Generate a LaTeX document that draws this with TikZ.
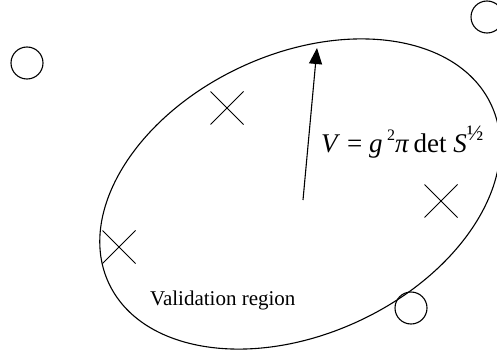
\documentclass[tikz,border=0pt]{standalone}
\usepackage{fontspec}
\setmainfont{Liberation Serif}
\usetikzlibrary{shapes.geometric,shapes.misc,arrows.meta}
\begin{document}
\begin{tikzpicture}[x=1pt,y=1pt,
  meas/.style={draw,circle,minimum size=32pt,inner sep=0pt,line width=1.1pt},
  xmark/.style={draw,cross out,minimum size=32pt,inner sep=0pt,line width=1pt},
  region/.style={draw,ellipse,minimum width=422pt,minimum height=280pt,inner sep=0pt,line width=1.1pt,rotate=25}]
\useasboundingbox (0,0) rectangle (497,354);
\node[region] (ell) at (300,160) {};
\node[meas] (m1) at (27,291) {};
\node[meas] (m2) at (487,337) {};
\node[meas] (m3) at (411,46) {};
\node[xmark] (x1) at (227,246) {};
\node[xmark] (x2) at (441,153) {};
\node[xmark] (x3) at (119,107) {};
\coordinate (c) at (303,154);
\coordinate (t) at (317,306);
\draw[line width=1.1pt,-{Triangle[length=16pt,width=13pt]}] (c) -- (t);
\node[anchor=base west,inner sep=0pt,font=\fontsize{27}{30}\selectfont] (f) at (321,202)
  {\textit{V} = \textit{g}\,\raisebox{0.42em}{\fontsize{16}{18}\selectfont 2}\textit{π}\,det \textit{S}\raisebox{0.42em}{\fontsize{22}{24}\selectfont ½}};
\node[anchor=base west,inner sep=0pt,font=\fontsize{21}{25}\selectfont] (lab) at (150,49) {Validation region};
\end{tikzpicture}
\end{document}
